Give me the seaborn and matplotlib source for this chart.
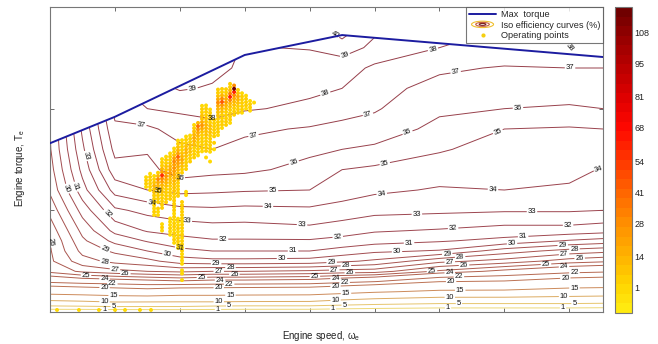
import numpy as np
import pandas as pd
import matplotlib
matplotlib.use("Agg")
import matplotlib.pyplot as plt
import seaborn as sns
from matplotlib.colors import LinearSegmentedColormap, Normalize
from matplotlib.patches import Ellipse, Polygon
from matplotlib.lines import Line2D
from matplotlib.legend_handler import HandlerBase

# --- engine map: breakpoints (rpm, Nm) and efficiency (%)
speed_bp = [1000, 1250, 1500, 1750, 2000, 2250, 2500, 3000, 3250, 3500, 4000, 4500, 5000, 5260]
torque_bp = [0, 2, 5, 10, 15, 20, 25, 30, 35, 40, 50, 60, 70, 80, 90, 100, 110, 120, 130, 140, 150]
# one row per speed breakpoint, values along torque_bp
eff_by_speed = [
    [-3.0, 3.0, 9.0, 17.0, 22.5, 25.3, 25.8, 25.9, 26.0, 26.4, 27.3, 28.2, 28.6, 28.9, 29.0, 29.2, 29.4, 29.4, 29.4, 29.4, 29.4],
    [-3.0, 3.2, 9.5, 17.5, 23.0, 26.2, 27.6, 28.3, 28.8, 29.3, 30.4, 31.6, 32.3, 32.8, 33.2, 33.5, 33.6, 33.6, 33.6, 33.6, 33.6],
    [-2.7, 3.5, 10.2, 18.1, 23.2, 26.7, 28.3, 29.2, 30.3, 31.3, 32.8, 34.4, 35.6, 36.3, 36.8, 37.3, 37.8, 38.0, 38.0, 38.0, 38.0],
    [-2.5, 3.5, 10.1, 18.6, 23.5, 27.0, 28.7, 30.0, 31.1, 32.1, 33.3, 35.0, 35.7, 36.1, 36.8, 38.0, 38.5, 38.8, 39.0, 39.0, 39.0],
    [-2.5, 3.5, 10.0, 17.8, 23.8, 27.2, 29.5, 30.7, 31.7, 32.3, 33.7, 35.3, 36.5, 36.8, 37.4, 38.2, 39.1, 39.3, 39.3, 39.3, 39.3],
    [-2.0, 2.8, 10.0, 17.8, 23.5, 27.0, 29.7, 31.0, 31.9, 32.5, 33.8, 35.2, 36.3, 37.0, 37.7, 38.3, 38.9, 39.3, 39.3, 39.3, 39.3],
    [-2.0, 2.5, 9.8, 17.6, 23.5, 27.0, 29.7, 31.0, 31.9, 32.5, 33.7, 35.1, 36.2, 36.7, 37.2, 38.1, 38.5, 38.8, 38.95, 39.0, 39.0],
    [-2.0, 2.5, 9.7, 17.4, 23.3, 26.8, 29.6, 31.0, 31.9, 32.7, 33.8, 35.0, 35.7, 36.2, 36.9, 37.8, 38.2, 38.6, 39.05, 39.5, 39.5],
    [-2.5, 2.0, 8.5, 16.5, 22.7, 26.6, 29.2, 30.6, 31.7, 32.4, 33.6, 34.5, 35.0, 36.0, 36.7, 37.4, 38.0, 38.5, 39.4, 40.8, 40.8],
    [-3.0, 1.6, 7.6, 15.5, 22.1, 26.5, 28.8, 30.2, 31.4, 32.1, 33.3, 34.2, 34.8, 35.8, 36.6, 37.1, 37.4, 37.8, 38.8, 39.2, 39.2],
    [-4.0, 1.0, 6.6, 14.2, 20.1, 24.8, 27.3, 29.9, 31.1, 31.9, 33.2, 33.9, 34.5, 35.1, 35.7, 36.2, 36.6, 37.2, 38.0, 38.5, 38.5],
    [-4.0, 1.0, 6.6, 14.1, 19.8, 23.6, 26.6, 28.5, 30.7, 31.6, 33.1, 34.0, 34.3, 34.6, 35.0, 36.0, 36.4, 36.9, 37.9, 38.0, 38.0],
    [-4.0, 1.0, 6.6, 13.0, 18.6, 22.6, 25.5, 27.6, 29.9, 31.6, 33.1, 33.9, 34.2, 34.5, 34.9, 35.9, 36.4, 37.0, 38.0, 38.0, 38.0],
    [-4.5, 0.8, 6.3, 12.8, 18.3, 22.3, 25.2, 27.3, 29.6, 31.4, 33.0, 33.7, 33.95, 34.6, 35.0, 36.0, 36.4, 37.0, 38.5, 38.5, 38.5],
]
eff_levels = [1, 5, 10, 15, 20, 22, 24, 25, 26, 27, 28, 29, 30, 31, 32, 33, 34, 35, 36, 37, 38, 39, 40]

# max torque curve
mt_speed = [1000, 1500, 2500, 3250, 5260]
mt_torque = [83.0, 96.0, 126.4, 136.2, 125.4]

# operating points: 2D histogram columns (speed, first torque bin, counts upward)
torque_bin = 1.6
op_speed = [1740, 1771, 1802, 1832, 1863, 1894, 1925, 1956, 1986, 2017, 2048, 2079, 2110, 2140,
            2171, 2202, 2233, 2264, 2294, 2325, 2356, 2387, 2418, 2448, 2479, 2510, 2541, 2572]
op_t0 = [61.5, 60.0, 47.7, 47.7, 40.0, 54.0, 38.0, 34.0, 31.5, 15.7, 57.5, 74.0, 76.0, 77.0,
         79.0, 76.0, 74.0, 80.0, 87.0, 90.5, 92.0, 93.0, 97.0, 98.0, 98.0, 100.0, 99.0, 103.0]
op_counts = [
    [2, 3, 3, 2],
    [2, 3, 5, 6, 3, 2],
    [2, 3, 2, 3, 3, 4, 5, 7, 10, 12, 8, 4, 2],
    [2, 2, 3, 0, 3, 4, 5, 6, 8, 12, 18, 30, 12, 5],
    [2, 3, 2, 0, 0, 0, 0, 3, 3, 4, 5, 6, 8, 10, 14, 20, 30, 55, 22, 12, 6, 4, 2],
    [3, 3, 4, 5, 6, 8, 12, 18, 24, 16, 10, 7, 5, 3, 2],
    [2, 2, 3, 2, 2, 2, 0, 0, 0, 0, 0, 3, 3, 4, 5, 6, 8, 10, 14, 20, 16, 12, 8, 6, 4, 2],
    [2, 3, 2, 3, 2, 3, 3, 2, 3, 2, 3, 4, 4, 5, 5, 6, 7, 8, 10, 12, 14, 18, 22, 26, 20, 30, 22, 8, 4, 2],
    [2, 2, 3, 3, 2, 2, 3, 2, 2, 2, 0, 0, 0, 0, 0, 0, 3, 4, 4, 5, 6, 8, 9, 10, 12, 16, 20, 26, 42, 22, 12, 8, 4, 2],
    [2, 0, 2, 2, 0, 2, 2, 3, 2, 3, 2, 3, 3, 2, 3, 2, 3, 3, 2, 3, 3, 3, 3, 3, 3,
     0, 0, 0, 0, 0, 0, 0, 0, 4, 5, 8, 14, 18, 12, 9, 6, 5, 3, 2],
    [2, 2, 0, 0, 0, 0, 0, 0, 3, 4, 5, 6, 9, 12, 14, 10, 6, 4, 2],
    [3, 4, 5, 8, 10, 9, 6, 4, 2],
    [3, 3, 5, 6, 9, 14, 18, 12, 8, 4, 2],
    [2, 3, 4, 5, 6, 9, 12, 18, 24, 38, 14],
    [2, 3, 3, 4, 5, 6, 9, 15, 26, 18, 10, 8, 5, 3, 2],
    [2, 0, 3, 3, 4, 5, 6, 8, 10, 14, 12, 10, 9, 6, 5, 3, 2],
    [2, 0, 0, 2, 3, 3, 4, 5, 6, 8, 9, 8, 6, 5, 4, 3, 2],
    [2, 0, 3, 0, 3, 4, 5, 6, 5, 3],
    [2, 3, 3, 4, 5, 6, 8, 9, 12, 18, 28, 16, 9, 5, 3],
    [2, 3, 3, 4, 5, 8, 12, 24, 45, 28, 12, 5, 3],
    [3, 3, 4, 5, 6, 9, 14, 20, 16, 9, 5, 3],
    [2, 3, 3, 4, 5, 8, 14, 28, 60, 32, 14, 6, 3],
    [3, 4, 5, 8, 12, 18, 30, 60, 115, 30],
    [3, 3, 5, 8, 12, 18, 9, 4],
    [2, 3, 4, 5, 6, 4, 2],
    [2, 3, 3, 3, 2],
    [2, 3, 3, 2],
    [2],
]
# idle / motoring points along the bottom
idle_speed = [1054, 1223, 1377, 1501, 1578, 1693, 1778]
idle_torque = [1.0, 1.0, 1.0, 1.0, 1.0, 1.0, 1.0]
idle_count = [2, 2, 2, 2, 2, 2, 2]

cbar_ticks = [1, 14, 28, 41, 54, 68, 81, 95, 108]

# where the inline labels sit on each iso line
label_spots = {
    40: [(3180, 134.8)],
    39: [(3257, 128.4), (2102, 108.2)],
    38: [(2248, 95.4), (3119, 107.7), (3951, 128.9), (4837, 126.4)],
    37: [(1709, 94.4), (2564, 88.0), (3450, 96.9), (4120, 120.0), (5006, 119.5)],
    36: [(2002, 64.4), (2872, 74.8), (3750, 89.0), (4605, 100.3)],
    35: [(1832, 58.5), (2718, 59.0), (3581, 72.3), (4451, 88.5)],
    34: [(1786, 53.6), (2679, 52.6), (3558, 56.6), (4413, 61.0), (5214, 73.8)],
    33: [(1308, 77.2), (2055, 45.7), (2941, 42.3), (3827, 46.2), (4713, 47.2)],
    32: [(1478, 50.7), (2333, 34.9), (3219, 35.4), (4105, 41.3), (4991, 43.3)],
    31: [(1193, 61.5), (2002, 31.5), (2872, 30.0), (3766, 33.9), (4644, 37.9)],
    30: [(1092, 60.0), (1901, 27.0), (2787, 25.6), (3673, 30.0), (4559, 33.9)],
    29: [(1431, 31.5), (2280, 21.6), (3170, 24.1), (4060, 28.5), (4950, 32.5)],
    28: [(1420, 23.6), (2390, 20.7), (3280, 21.6), (4160, 26.6), (5040, 31.0)],
    27: [(1500, 20.7), (2300, 19.2), (3190, 19.7), (4080, 24.1), (4960, 28.5)],
    26: [(1023, 34.4), (1580, 17.7), (2420, 16.7), (3310, 17.7), (4190, 22.1), (5080, 26.6)],
    25: [(1277, 16.7), (2171, 15.2), (3041, 16.2), (3943, 19.7), (4821, 23.1)],
    24: [(1420, 16.2), (2310, 16.2), (3200, 15.7), (4080, 18.7), (4960, 22.1)],
    22: [(1480, 13.3), (2380, 13.3), (3270, 13.3), (4150, 16.7), (5040, 18.7)],
    20: [(1420, 11.3), (2300, 11.3), (3200, 11.8), (4090, 14.8), (4970, 16.2)],
    15: [(1490, 7.9), (2390, 7.4), (3280, 9.3), (4160, 10.3), (5040, 11.8)],
    10: [(1420, 4.9), (2300, 4.9), (3200, 5.9), (4080, 7.4), (4960, 7.4)],
    5: [(1490, 2.5), (2380, 2.0), (3270, 3.0), (4150, 3.4), (5040, 3.4)],
    1: [(1424, 1.0), (2294, 0.5), (3180, 1.2), (4066, 2.0), (4952, 2.0)],
}


class IsoHandler(HandlerBase):
    """Legend key drawn as a few nested ellipses."""
    def create_artists(self, legend, orig_handle, xdescent, ydescent,
                       width, height, fontsize, trans):
        cx = width / 2 - xdescent
        cy = height / 2 - ydescent
        arts = []
        for f, c in zip([1.0, 0.62, 0.3], ["#f0c030", "#c86040", "#7a2020"]):
            arts.append(Ellipse((cx, cy), width * 0.8 * f, height * 1.0 * f,
                                fill=False, edgecolor=c, lw=0.8, transform=trans))
        return arts


sns.set_theme(style="white")
plt.rcParams["font.family"] = ["Liberation Sans", "DejaVu Sans"]
plt.rcParams["mathtext.fontset"] = "custom"
plt.rcParams["mathtext.rm"] = "Liberation Sans"
plt.rcParams["mathtext.it"] = "Liberation Sans"
plt.rcParams["mathtext.default"] = "regular"

fig = plt.figure(figsize=(6.58, 3.44), dpi=100)
ax = fig.add_axes([50 / 658, 32 / 344, 553 / 658, 305 / 344])
cax = fig.add_axes([615 / 658, 31 / 344, 17 / 658, 306 / 344])

# iso efficiency lines (one set per level so labels go on the right line),
# clipped to the region below max torque
Z = np.array(eff_by_speed).T
line_cmap = LinearSegmentedColormap.from_list(
    "iso", ["#eedc7a", "#e2b866", "#c98458", "#b0604e", "#9e4650", "#933c48"])
line_norm = Normalize(0, 40)
clip = Polygon([(mt_speed[0], -5)] + list(zip(mt_speed, mt_torque)) + [(mt_speed[-1], -5)],
               closed=True, transform=ax.transData)
for lev in eff_levels:
    cs = ax.contour(speed_bp, torque_bp, Z, levels=[lev],
                    colors=[line_cmap(line_norm(lev))], linewidths=0.7, zorder=2)
    cs.set_clip_path(clip)
    ax.clabel(cs, manual=label_spots[lev], inline=True, inline_spacing=1,
              fontsize=5.5, colors="#111111", fmt="%d")

# operating points coloured by count
rows = []
for spd, t0, counts in zip(op_speed, op_t0, op_counts):
    for i, c in enumerate(counts):
        if c > 0:
            rows.append((spd, t0 + i * torque_bin, c))
for spd, trq, c in zip(idle_speed, idle_torque, idle_count):
    rows.append((spd, trq, c))
ops = pd.DataFrame(rows, columns=["speed", "torque", "count"]).sort_values("count")

count_norm = Normalize(vmin=-9.5, vmax=118.5)
base = LinearSegmentedColormap.from_list("ops", [
    (0.0, "#ffea10"), (0.082, "#ffd400"), (0.184, "#ffb000"), (0.293, "#ff8c00"),
    (0.395, "#ff6400"), (0.496, "#ff3800"), (0.605, "#ff0800"), (0.707, "#e00000"),
    (0.816, "#b80000"), (0.918, "#940000"), (1.0, "#700000")])
count_cmap = base.resampled(32)

sns.scatterplot(data=ops, x="speed", y="torque", hue="count", palette=count_cmap,
                hue_norm=count_norm, s=8, linewidth=0, marker="o", legend=False,
                ax=ax, zorder=3)

# max torque
sns.lineplot(x=mt_speed, y=mt_torque, color="#1c1ca0", lw=1.4, sort=False, ax=ax, zorder=4)

ax.set_xlim(1000, 5260)
ax.set_ylim(0, 150)
ax.set_xticks(np.arange(1000, 5001, 500))
ax.set_yticks([0, 50, 100, 150])
ax.tick_params(direction="in", length=3, width=0.6, color="#555555",
               top=True, right=True, bottom=True, left=True,
               labelbottom=False, labelleft=False)
for sp in ax.spines.values():
    sp.set_color("#777777")
    sp.set_linewidth(0.8)

ax.set_xlabel(r"Engine speed, $\omega_e$", fontsize=7, color="#222222")
ax.set_ylabel(r"Engine torque, T$_e$", fontsize=7, color="#222222")
ax.xaxis.set_label_coords(0.49, -0.055)
ax.yaxis.set_label_coords(-0.041, 0.472)

# legend
iso_key = Line2D([], [])
handles = [
    Line2D([], [], color="#1c1ca0", lw=1.4),
    iso_key,
    Line2D([], [], marker="o", color="none", markerfacecolor="#f5cf10",
           markeredgecolor="none", markersize=3),
]
labels = ["Max  torque", "Iso efficiency curves (%)", "Operating points"]
leg = ax.legend(handles, labels, loc="upper right", borderaxespad=0, fontsize=6.6,
                frameon=True, fancybox=False, handlelength=3.0, handletextpad=0.5,
                borderpad=0.3, labelspacing=0.2, handler_map={iso_key: IsoHandler()})
leg.get_frame().set_edgecolor("#555555")
leg.get_frame().set_linewidth(0.8)
leg.set_zorder(6)

# colorbar for the operating point counts
sm = plt.cm.ScalarMappable(norm=count_norm, cmap=count_cmap)
cb = fig.colorbar(sm, cax=cax, ticks=cbar_ticks)
cb.ax.tick_params(direction="in", length=3, width=0.6, color="#555555",
                  labelsize=6.5, labelcolor="#222222", pad=2)
cb.outline.set_edgecolor("#777777")
cb.outline.set_linewidth(0.8)

fig.savefig("out.png", dpi=100, facecolor="white")
